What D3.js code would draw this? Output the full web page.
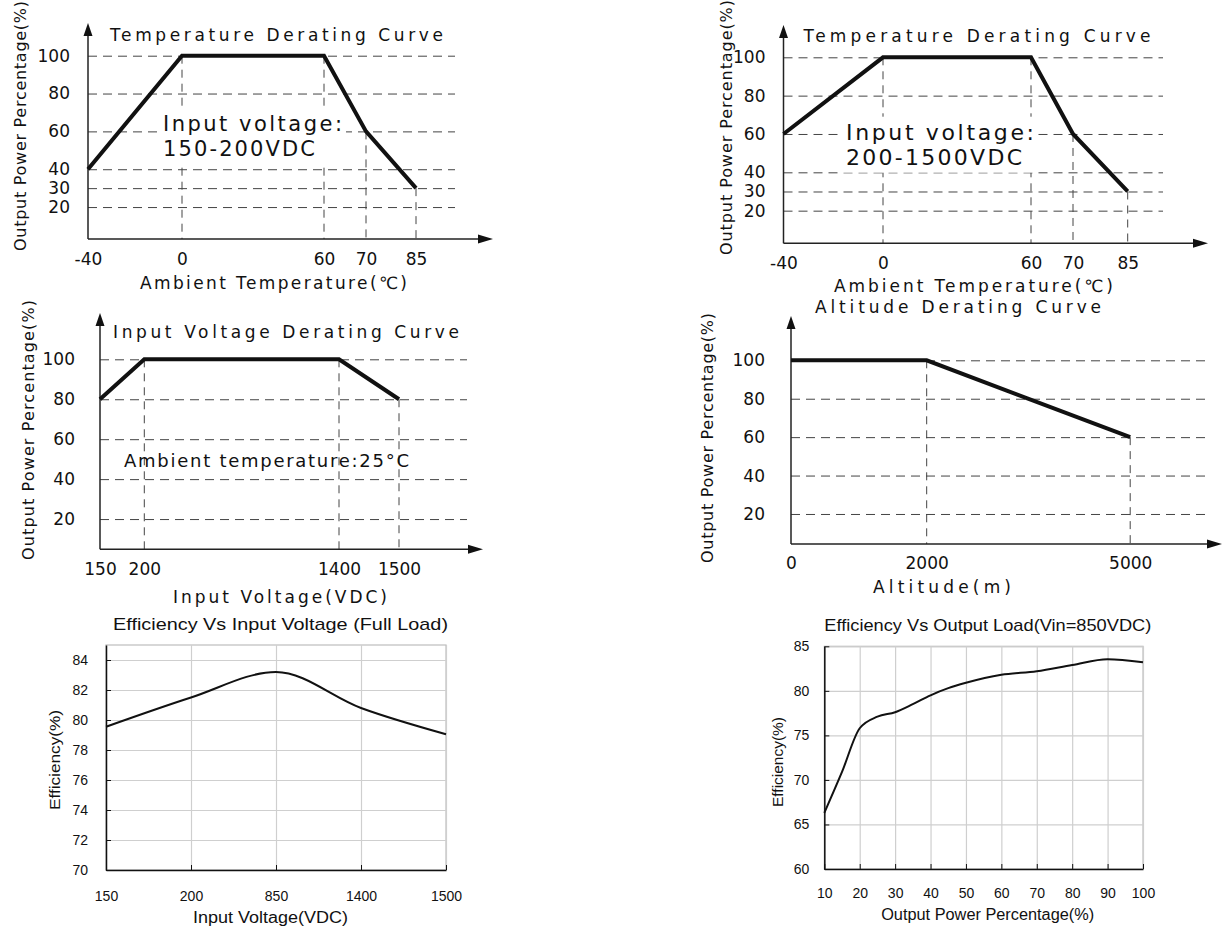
<!DOCTYPE html>
<html>
<head>
<meta charset="utf-8">
<script src="https://cdn.jsdelivr.net/npm/d3@7"></script>
<style>
  body { margin: 0; background: #fff; }
  svg { display: block; }
</style>
</head>
<body>
<svg id="chart" width="1228" height="929"></svg>
<script>
// temperature derating (two input-voltage ranges)
const tempX = [-40, 0, 60, 70, 85];
const tempPowerLow = [40, 100, 100, 60, 30];
const tempPowerHigh = [60, 100, 100, 60, 30];
const tempYTicks = [100, 80, 60, 40, 30, 20];

// input voltage derating
const vinX = [150, 200, 1400, 1500];
const vinPower = [80, 100, 100, 80];
const pctTicks = [100, 80, 60, 40, 20];

// altitude derating
const altX = [0, 2000, 5000];
const altPower = [100, 100, 60];

// efficiency vs input voltage
const effVinCats = ['150', '200', '850', '1400', '1500'];
const effVinValues = [79.55, 81.5, 83.2, 80.8, 79.05];
const effVinTicks = [70, 72, 74, 76, 78, 80, 82, 84];

// efficiency vs output load
const loadX = [10, 15, 20, 25, 30, 35, 40, 45, 50, 60, 70, 80, 90, 100];
const loadEff = [66.3, 70.9, 75.8, 77.1, 77.6, 78.5, 79.5, 80.3, 80.9, 81.8, 82.2, 82.9, 83.55, 83.2];
const loadXTicks = [10, 20, 30, 40, 50, 60, 70, 80, 90, 100];
const loadYTicks = [60, 65, 70, 75, 80, 85];

const FONT_D = 'DejaVu Sans, sans-serif';
const FONT_E = 'Liberation Sans, Arial, sans-serif';
const plain = d => String(d);

const svg = d3.select('#chart');

function label(g, str, x, y, o) {
  return g.append('text')
    .attr('x', x)
    .attr('y', y)
    .attr('dy', '0.35em')
    .attr('text-anchor', o.anchor || 'middle')
    .attr('font-family', o.font)
    .attr('font-size', o.size)
    .attr('fill', '#111')
    .attr('textLength', o.len)
    .attr('lengthAdjust', o.adjust || 'spacing')
    .attr('transform', o.rotate ? `rotate(-90 ${x} ${y})` : null)
    .text(str);
}

function drawDerating(o) {
  const x = d3.scaleLinear().domain(o.xDomain).range(o.xRange);
  const y = d3.scaleLinear().domain([0, 100]).range([o.y0, o.y100]);
  const g = svg.append('g');
  const data = o.xs.map((v, i) => [v, o.ys[i]]);

  const yAxis = g.append('g')
    .attr('transform', `translate(${o.left},0)`)
    .call(d3.axisLeft(y).tickValues(o.yTicks).tickFormat(plain)
      .tickSize(-(o.gridEnd - o.left)).tickPadding(o.yPad));
  yAxis.select('.domain').remove();
  yAxis.selectAll('.tick line').attr('stroke', '#444').attr('stroke-dasharray', '9,6');
  yAxis.selectAll('.tick text').attr('font-family', FONT_D).attr('font-size', 17).attr('fill', '#111');

  const xAxis = g.append('g')
    .attr('transform', `translate(0,${o.base})`)
    .call(d3.axisBottom(x).tickValues(o.xs).tickFormat(plain).tickSize(0).tickPadding(o.xPad));
  xAxis.select('.domain').remove();
  xAxis.selectAll('.tick text').attr('font-family', FONT_D).attr('font-size', 17).attr('fill', '#111');

  g.selectAll('line.drop')
    .data(data.filter(d => d[0] > o.xDomain[0]))
    .join('line')
      .attr('class', 'drop')
      .attr('x1', d => x(d[0]))
      .attr('x2', d => x(d[0]))
      .attr('y1', d => y(d[1]))
      .attr('y2', o.base)
      .attr('stroke', '#444')
      .attr('stroke-dasharray', '8,6');

  if (o.notes) {
    const box = g.append('rect').attr('fill', '#fff');
    const nodes = o.notes.map(n => label(g, n.t, n.x, n.y,
      {anchor: 'start', font: FONT_D, size: n.size, len: n.len}));
    if (o.noteBox) {
      const bb = nodes.map(n => n.node().getBBox());
      const x0 = d3.min(bb, b => b.x) - 4, x1 = d3.max(bb, b => b.x + b.width) + 4;
      const y0 = d3.min(bb, b => b.y) - 3, y1 = d3.max(bb, b => b.y + b.height) + 3;
      box.attr('x', x0).attr('y', y0).attr('width', x1 - x0).attr('height', y1 - y0);
      nodes.forEach(n => n.raise());
    }
  }

  // axes with arrows
  g.append('line')
    .attr('x1', o.left).attr('x2', o.left)
    .attr('y1', o.base).attr('y2', o.arrowTop + 4)
    .attr('stroke', '#222').attr('stroke-width', 1.5);
  g.append('line')
    .attr('x1', o.left).attr('x2', o.arrowRight - 4)
    .attr('y1', o.base).attr('y2', o.base)
    .attr('stroke', '#222').attr('stroke-width', 1.5);
  g.append('path')
    .attr('d', `M${o.left},${o.arrowTop}l-4.5,13h9z`)
    .attr('fill', '#111');
  g.append('path')
    .attr('d', `M${o.arrowRight},${o.base}l-15,-4.5v9z`)
    .attr('fill', '#111');

  g.append('path')
    .datum(data)
    .attr('d', d3.line().x(d => x(d[0])).y(d => y(d[1])))
    .attr('fill', 'none')
    .attr('stroke', '#111')
    .attr('stroke-width', 4);

  label(g, o.title, o.title_cx, o.title_cy, {font: FONT_D, size: 17, len: o.title_len});
  label(g, o.xTitle, o.xt_cx, o.xt_cy, {font: FONT_D, size: 17, len: o.xt_len});
  label(g, 'Output Power Percentage(%)', o.yt_cx, o.yt_cy, {font: FONT_D, size: 16, len: o.yt_len, rotate: true});
}

function drawEfficiency(o) {
  const x = o.x;
  const y = d3.scaleLinear().domain(o.yDomain).range([o.bottom, o.top]);
  const g = svg.append('g');
  const w = o.right - o.left, h = o.bottom - o.top;

  g.append('rect')
    .attr('x', o.left).attr('y', o.top).attr('width', w).attr('height', h)
    .attr('fill', 'none').attr('stroke', '#bdbdbd').attr('stroke-width', 1.2);

  const gy = g.append('g')
    .attr('transform', `translate(${o.left},0)`)
    .call(d3.axisLeft(y).tickValues(o.yTicks).tickSize(-w).tickFormat(''));
  gy.select('.domain').remove();
  gy.selectAll('.tick line').attr('stroke', '#cfcfcf').attr('stroke-width', 1.2);

  const gx = g.append('g')
    .attr('transform', `translate(0,${o.bottom})`)
    .call(d3.axisBottom(x).tickValues(o.xTicks).tickSize(-h).tickFormat(''));
  gx.select('.domain').remove();
  gx.selectAll('.tick line').attr('stroke', '#cfcfcf').attr('stroke-width', 1.2);

  const ay = g.append('g')
    .attr('transform', `translate(${o.left},0)`)
    .call(d3.axisLeft(y).tickValues(o.yTicks).tickFormat(plain)
      .tickSizeInner(-5).tickSizeOuter(0).tickPadding(o.yPad));
  ay.select('.domain').attr('stroke', '#111').attr('stroke-width', 1.5);
  ay.selectAll('.tick line').attr('stroke', '#111');
  ay.selectAll('.tick text').attr('font-family', FONT_E).attr('font-size', 14).attr('fill', '#111');

  const ax = g.append('g')
    .attr('transform', `translate(0,${o.bottom})`)
    .call(d3.axisBottom(x).tickValues(o.xTicks).tickFormat(plain)
      .tickSizeInner(-5).tickSizeOuter(0).tickPadding(o.xPad));
  ax.select('.domain').attr('stroke', '#111').attr('stroke-width', 1.5);
  ax.selectAll('.tick line').attr('stroke', '#111');
  ax.selectAll('.tick text').attr('font-family', FONT_E).attr('font-size', 14).attr('fill', '#111');

  g.append('path')
    .datum(o.xs.map((v, i) => [v, o.ys[i]]))
    .attr('d', d3.line().curve(d3.curveMonotoneX).x(d => x(d[0])).y(d => y(d[1])))
    .attr('fill', 'none')
    .attr('stroke', '#111')
    .attr('stroke-width', 2);

  label(g, o.title, o.title_cx, o.title_cy, {font: FONT_E, size: 17, len: o.title_len, adjust: 'spacingAndGlyphs'});
  label(g, o.xTitle, o.xt_cx, o.xt_cy, {font: FONT_E, size: 16, len: o.xt_len, adjust: 'spacingAndGlyphs'});
  label(g, 'Efficiency(%)', o.yt_cx, o.yt_cy, {font: FONT_E, size: 15, len: o.yt_len, rotate: true, adjust: 'spacingAndGlyphs'});
}

drawDerating({
  xs: tempX, ys: tempPowerLow, yTicks: tempYTicks,
  xDomain: tempX, xRange: [88, 182, 324, 366, 416],
  left: 88, base: 239, arrowTop: 23, arrowRight: 493, gridEnd: 455,
  y0: 244.9, y100: 55.7, yPad: 18, xPad: 14,
  title: 'Temperature Derating Curve', title_cx: 276.5, title_cy: 35, title_len: 333,
  xTitle: 'Ambient Temperature(\u2103)', xt_cx: 273.5, xt_cy: 283, xt_len: 267,
  yt_cx: 20, yt_cy: 126, yt_len: 250,
  noteBox: true,
  notes: [
    {t: 'Input voltage:', x: 163, y: 124, len: 179, size: 21},
    {t: '150-200VDC', x: 163, y: 149, len: 152, size: 21}
  ]
});

drawDerating({
  xs: tempX, ys: tempPowerHigh, yTicks: tempYTicks,
  xDomain: tempX, xRange: [783.5, 883, 1031, 1073, 1127.7],
  left: 783.5, base: 243.3, arrowTop: 25, arrowRight: 1208, gridEnd: 1163,
  y0: 249, y100: 57.3, yPad: 18, xPad: 14,
  title: 'Temperature Derating Curve', title_cx: 977, title_cy: 36, title_len: 347,
  xTitle: 'Ambient Temperature(\u2103)', xt_cx: 973.5, xt_cy: 286, xt_len: 279,
  yt_cx: 726, yt_cy: 127.5, yt_len: 255,
  noteBox: true,
  notes: [
    {t: 'Input voltage:', x: 846, y: 132, len: 188, size: 22},
    {t: '200-1500VDC', x: 846, y: 157, len: 176, size: 22}
  ]
});

drawDerating({
  xs: vinX, ys: vinPower, yTicks: pctTicks,
  xDomain: vinX, xRange: [100, 144.3, 339, 399],
  left: 100, base: 549.3, arrowTop: 313, arrowRight: 483, gridEnd: 467,
  y0: 559, y100: 359.3, yPad: 25, xPad: 14,
  title: 'Input Voltage Derating Curve', title_cx: 286, title_cy: 332, title_len: 346,
  xTitle: 'Input Voltage(VDC)', xt_cx: 280, xt_cy: 597, xt_len: 214,
  yt_cx: 28, yt_cy: 430, yt_len: 260,
  noteBox: false,
  notes: [
    {t: 'Ambient temperature:25\u00b0C', x: 124, y: 461, len: 285, size: 18}
  ]
});

drawDerating({
  xs: altX, ys: altPower, yTicks: pctTicks,
  xDomain: [0, 5000], xRange: [791, 1130.2],
  left: 791, base: 544, arrowTop: 316, arrowRight: 1222, gridEnd: 1207,
  y0: 552.4, y100: 360.3, yPad: 26, xPad: 13,
  title: 'Altitude Derating Curve', title_cx: 958, title_cy: 306.7, title_len: 286,
  xTitle: 'Altitude(m)', xt_cx: 942, xt_cy: 586.7, xt_len: 138,
  yt_cx: 707, yt_cy: 438, yt_len: 250
});

drawEfficiency({
  x: d3.scalePoint().domain(effVinCats).range([106, 446]),
  xs: effVinCats, ys: effVinValues, xTicks: effVinCats,
  yDomain: [70, 85], yTicks: effVinTicks,
  left: 106, right: 446, top: 645, bottom: 870, yPad: 18, xPad: 21,
  title: 'Efficiency Vs Input Voltage (Full Load)', title_cx: 280.5, title_cy: 624, title_len: 335,
  xTitle: 'Input Voltage(VDC)', xt_cx: 270.5, xt_cy: 917, xt_len: 155,
  yt_cx: 55, yt_cy: 760, yt_len: 100
});

drawEfficiency({
  x: d3.scaleLinear().domain([10, 100]).range([824.3, 1143]),
  xs: loadX, ys: loadEff, xTicks: loadXTicks,
  yDomain: [60, 85], yTicks: loadYTicks,
  left: 824.3, right: 1143, top: 646.3, bottom: 869, yPad: 15, xPad: 19,
  title: 'Efficiency Vs Output Load(Vin=850VDC)', title_cx: 987.8, title_cy: 625, title_len: 327,
  xTitle: 'Output Power Percentage(%)', xt_cx: 987.7, xt_cy: 914, xt_len: 213,
  yt_cx: 778, yt_cy: 762, yt_len: 90
});
</script>
</body>
</html>
